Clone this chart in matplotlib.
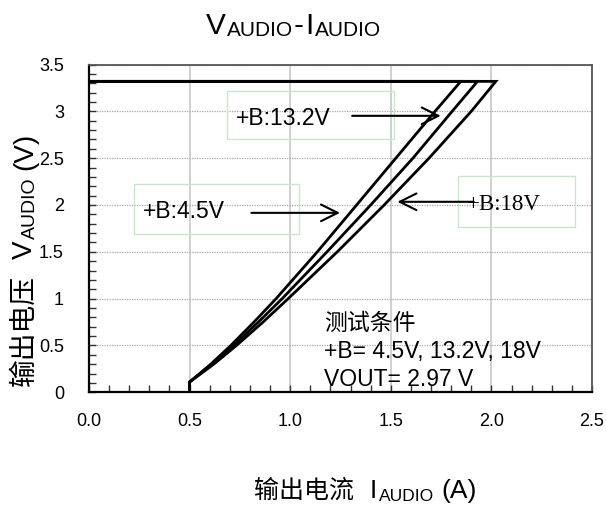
import matplotlib
matplotlib.use('Agg')
import matplotlib.pyplot as plt
from matplotlib.transforms import IdentityTransform
from matplotlib.ticker import MultipleLocator
from matplotlib.patches import Rectangle

# ---------------- data ----------------
v_audio = [0.00, 0.11, 0.30, 0.50, 0.75, 1.00, 1.50, 2.00, 2.50, 3.00, 3.32, 3.32]
i_b45 = [0.50, 0.50, 0.605, 0.705, 0.820, 0.930, 1.135, 1.330, 1.525, 1.720, 1.848, 0.00]
i_b132 = [0.50, 0.50, 0.612, 0.718, 0.842, 0.960, 1.183, 1.400, 1.610, 1.805, 1.931, 0.00]
i_b18 = [0.50, 0.50, 0.620, 0.733, 0.865, 0.990, 1.234, 1.467, 1.690, 1.900, 2.022, 0.00]
series_labels = ['+B:4.5V', '+B:13.2V', '+B:18V']
x_ticks = [0.0, 0.5, 1.0, 1.5, 2.0, 2.5]
x_tick_labels = ['0.0', '0.5', '1.0', '1.5', '2.0', '2.5']
y_ticks = [0, 0.5, 1, 1.5, 2, 2.5, 3, 3.5]
y_tick_labels = ['0', '0.5', '1', '1.5', '2', '2.5', '3', '3.5']
cond_lines = ['测试条件', '+B= 4.5V, 13.2V, 18V', 'VOUT= 2.97 V']

LAT = 'Liberation Sans'
SER = 'Liberation Serif'
CJK = 'Noto Sans CJK SC'
plt.rcParams['font.family'] = [LAT, CJK, 'DejaVu Sans']

W, H = 606, 511
fig = plt.figure(figsize=(W / 100, H / 100), dpi=100)
ax = fig.add_axes([89 / W, 1 - 392.3 / H, (592 - 89) / W, (392.3 - 64.5) / H])

for xs in (i_b45, i_b132, i_b18):
    ax.plot(xs, v_audio, color='black', lw=2.0, solid_joinstyle='miter', zorder=3)

ax.set_xlim(0, 2.5)
ax.set_ylim(0, 3.5)
ax.set_xticks(x_ticks, x_tick_labels)
ax.set_yticks(y_ticks, y_tick_labels)
ax.xaxis.set_minor_locator(MultipleLocator(0.1))
ax.yaxis.set_minor_locator(MultipleLocator(0.1))
ax.tick_params(which='both', direction='in', length=5, width=1, color='#333333')
ax.tick_params(axis='x', which='major', labelsize=13, pad=15)
ax.tick_params(axis='y', which='major', labelsize=13, pad=18)
ax.xaxis.grid(True, which='major', color='#c4c4c4', lw=1.1, ls='-')
ax.yaxis.grid(True, which='major', color='#a8a8a8', lw=0.9, ls=(0, (1, 1)))
ax.set_axisbelow(True)
for s in ('left', 'bottom'):
    ax.spines[s].set_linewidth(1.6)
    ax.spines[s].set_color('black')
for s in ('top', 'right'):
    ax.spines[s].set_linewidth(1.3)
    ax.spines[s].set_color('#555555')

# annotation boxes
box_kw = dict(fill=False, edgecolor='#c8e6c8', lw=1.0, zorder=2)
ax.add_patch(Rectangle((0.686, 2.700), 1.515 - 0.686, 3.219 - 2.700, **box_kw))
ax.add_patch(Rectangle((0.222, 1.689), 1.045 - 0.222, 2.227 - 1.689, **box_kw))
ax.add_patch(Rectangle((1.832, 1.767), 2.415 - 1.832, 2.305 - 1.767, **box_kw))

ax.text(0.732, 2.927, series_labels[1], fontsize=16.5, family=LAT, va='center', ha='left')
ax.text(0.267, 1.93, series_labels[0], fontsize=16.5, family=LAT, va='center', ha='left')
ax.text(1.877, 2.01, series_labels[2], fontsize=16.5, family=SER, va='center', ha='left')

arrow_kw = dict(arrowstyle='->,head_length=1.0,head_width=0.5', color='black', lw=1.5,
                mutation_scale=12, shrinkA=0, shrinkB=0)
ax.annotate('', xy=(1.748, 2.952), xytext=(1.308, 2.952), arrowprops=arrow_kw, zorder=4)
ax.annotate('', xy=(1.2475, 1.916), xytext=(0.807, 1.916), arrowprops=arrow_kw, zorder=4)
ax.annotate('', xy=(1.533, 2.034), xytext=(1.912, 2.034), arrowprops=arrow_kw, zorder=4)

ax.text(1.170, 0.74, cond_lines[0], fontsize=16.5, family=[CJK], va='center', ha='left')
ax.text(1.170, 0.44, cond_lines[1], fontsize=16.5, family=LAT, va='center', ha='left')
ax.text(1.170, 0.142, cond_lines[2], fontsize=16.5, family=LAT, va='center', ha='left')

# ---------- rich text (subscripts) composed piecewise ----------
r = fig.canvas.get_renderer()


def measure(s, size, fam):
    t = fig.text(0, 0, s, fontsize=size, family=fam)
    w = t.get_window_extent(r).width
    t.remove()
    return w


def chain(pieces, x, y, rot=0):
    """pieces: (text, size, family, baseline_shift_px, gap_after_px)"""
    for s, size, fam, shift, gap in pieces:
        w = measure(s, size, fam)
        if rot == 0:
            fig.text(x, y - shift, s, fontsize=size, family=fam, ha='left', va='baseline',
                     transform=IdentityTransform())
            x += w + gap
        else:
            fig.text(x + shift, y, s, fontsize=size, family=fam, rotation=90,
                     rotation_mode='anchor', ha='left', va='baseline',
                     transform=IdentityTransform())
            y += w + gap


# title
chain([('V', 21.5, LAT, 0, 1), ('AUDIO', 15, LAT, 2, 1), ('-', 21.5, LAT, 0, 1),
       ('I', 21.5, LAT, 0, 2), ('AUDIO', 15, LAT, 2, 0)], 206, H - 34)
# x label
chain([('输出电流', 18, [CJK], 0, 16), ('I', 19, LAT, 0, 2), ('AUDIO', 12.5, LAT, 3, 7),
       ('(A)', 19, LAT, 0, 0)], 254, H - 498)
# y label
chain([('输出电压', 20, [CJK], 0, 16), ('V', 20, LAT, 0, 2), ('AUDIO', 14, LAT, 3, 7),
       ('(V)', 20, LAT, 0, 0)], 32, H - 386, rot=90)

fig.savefig('out.png', dpi=100)
